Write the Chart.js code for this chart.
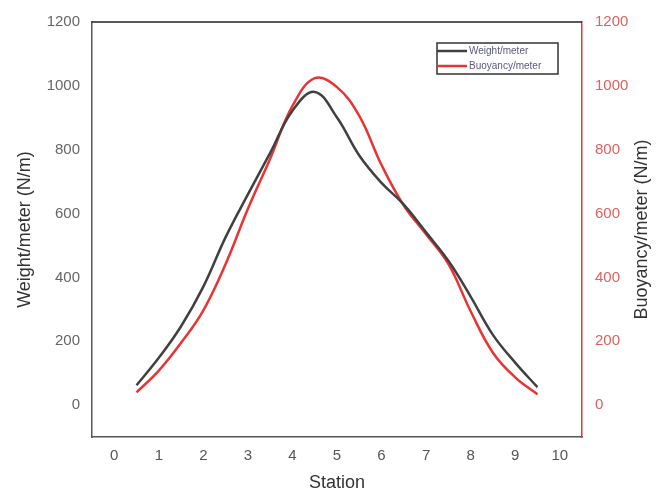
<!DOCTYPE html>
<html>
<head>
<meta charset="utf-8">
<script src="https://cdn.jsdelivr.net/npm/chart.js@4.4.0/dist/chart.umd.min.js"></script>
<style>
  html, body { margin: 0; padding: 0; background: #fff; }
  #wrap { width: 664px; height: 498px; }
</style>
</head>
<body>
<div id="wrap"><canvas id="myChart" width="664" height="498"></canvas></div>
<script>
const stations = [0.5, 1, 1.5, 2, 2.5, 3, 3.5, 4, 4.5, 5, 5.5, 6, 6.5, 7, 7.5, 8, 8.5, 9, 9.5];
const weight = [62, 148, 247, 371, 526, 660, 790, 922, 981, 901, 782, 696, 628, 541, 452, 340, 220, 133, 56];
const buoyancy = [40, 108, 195, 297, 442, 615, 772, 937, 1024, 996, 906, 752, 625, 535, 442, 294, 164, 87, 34];
const xTicks = [0, 1, 2, 3, 4, 5, 6, 7, 8, 9, 10];
const yTicks = [0, 200, 400, 600, 800, 1000, 1200];

const FONT = "'Liberation Sans', Arial, sans-serif";

function pts(vals) {
    return stations.map((s, i) => ({ x: s, y: vals[i] }));
}

// top frame line, right title (reads bottom-to-top like the left one) and the boxed legend
const framePlugin = {
    id: 'frame',
    afterDraw(chart) {
        const { ctx, chartArea } = chart;
        ctx.save();
        ctx.strokeStyle = '#222';
        ctx.lineWidth = 1.5;
        ctx.beginPath();
        ctx.moveTo(chartArea.left, chartArea.top);
        ctx.lineTo(chartArea.right, chartArea.top);
        ctx.stroke();

        ctx.save();
        ctx.translate(642, (chartArea.top + chartArea.bottom) / 2);
        ctx.rotate(-Math.PI / 2);
        ctx.fillStyle = '#333';
        ctx.font = '18px ' + FONT;
        ctx.textAlign = 'center';
        ctx.textBaseline = 'middle';
        ctx.fillText('Buoyancy/meter (N/m)', 0, 0);
        ctx.restore();

        const bx = 437, by = 43, bw = 121, bh = 31;
        ctx.lineWidth = 1.5;
        ctx.strokeStyle = '#333';
        ctx.strokeRect(bx, by, bw, bh);
        chart.data.datasets.forEach((ds, i) => {
            const y = by + 8 + i * 15;
            ctx.strokeStyle = ds.borderColor;
            ctx.lineWidth = 2.5;
            ctx.beginPath();
            ctx.moveTo(bx, y);
            ctx.lineTo(bx + 30, y);
            ctx.stroke();
            ctx.fillStyle = '#5a5a78';
            ctx.font = '10px ' + FONT;
            ctx.textBaseline = 'middle';
            ctx.fillText(ds.label, bx + 32, y);
        });
        ctx.restore();
    }
};

const plain = (v) => String(v);

const config = {
    type: 'line',
    data: {
        datasets: [{
            label: 'Weight/meter',
            data: pts(weight),
            borderColor: '#404040',
            borderWidth: 2.5,
            pointRadius: 0,
            tension: 0.4,
            yAxisID: 'y',
        }, {
            label: 'Buoyancy/meter',
            data: pts(buoyancy),
            borderColor: '#e83434',
            borderWidth: 2.5,
            pointRadius: 0,
            tension: 0.4,
            yAxisID: 'y2',
        }]
    },
    options: {
        responsive: false,
        animation: false,
        layout: { padding: { top: 15, left: 0, right: 0, bottom: 0 } },
        plugins: { legend: { display: false }, tooltip: { enabled: false } },
        scales: {
            x: {
                type: 'linear',
                min: -0.5,
                max: 10.5,
                afterBuildTicks: (s) => { s.ticks = xTicks.map(v => ({ value: v })); },
                afterFit: (s) => { s.height = 61; },
                grid: { display: false, drawTicks: false },
                border: { display: true, color: '#555', width: 1.5 },
                ticks: { color: '#555', padding: 10, callback: plain, font: { family: FONT, size: 15 } },
                title: { display: true, text: 'Station', color: '#333', padding: { top: 0, bottom: 4 }, font: { family: FONT, size: 18 } }
            },
            y: {
                position: 'left',
                min: -100,
                max: 1200,
                afterBuildTicks: (s) => { s.ticks = yTicks.map(v => ({ value: v })); },
                afterFit: (s) => { s.width = 92; },
                grid: { display: false, drawTicks: false },
                border: { display: true, color: '#555', width: 1.5 },
                ticks: { color: '#666', padding: 12, callback: plain, font: { family: FONT, size: 15 } },
                title: { display: true, text: 'Weight/meter (N/m)', color: '#333', padding: { top: 14, bottom: 0 }, font: { family: FONT, size: 18 } }
            },
            y2: {
                position: 'right',
                min: -100,
                max: 1200,
                afterBuildTicks: (s) => { s.ticks = yTicks.map(v => ({ value: v })); },
                afterFit: (s) => { s.width = 82; },
                grid: { display: false, drawTicks: false },
                border: { display: true, color: '#e83434', width: 1.5 },
                ticks: { color: '#e06060', padding: 13, callback: plain, font: { family: FONT, size: 15 } },
                title: { display: false }
            }
        }
    },
    plugins: [framePlugin]
};

const myChart = new Chart(document.getElementById('myChart'), config);
</script>
</body>
</html>
